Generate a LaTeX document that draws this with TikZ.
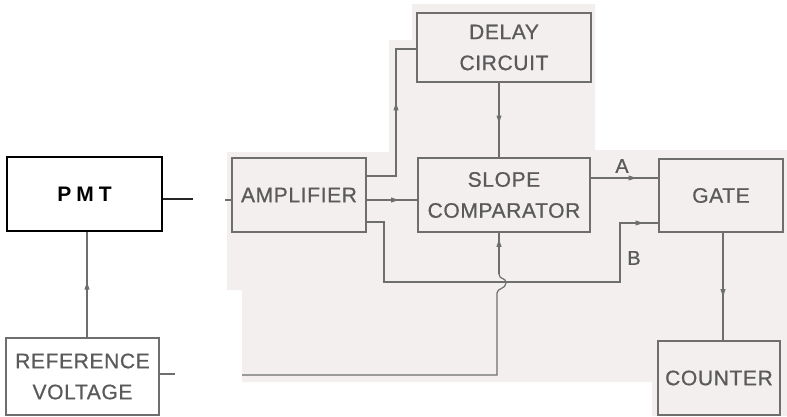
\documentclass[tikz,border=0pt]{standalone}
\usepackage{fontspec}
\setmainfont{Liberation Sans}
\newfontfamily\lblfont[LetterSpace=3,FakeBold=0.8]{Liberation Sans}
\usetikzlibrary{arrows.meta,decorations.markings,calc}
\definecolor{paper}{RGB}{244,239,239}
\definecolor{ink}{RGB}{110,110,110}
\definecolor{txt}{RGB}{90,90,90}
\begin{document}
\begin{tikzpicture}[x=1pt,y=-1pt,
  box/.style={draw=ink, line width=1.2pt, text=txt, font=\lblfont\fontsize{21}{31}\selectfont, align=center, inner sep=0pt},
  pmtbox/.style={draw=black, line width=2pt, text=black, font=\bfseries\fontsize{21}{31}\selectfont, align=center, inner sep=0pt},
  conn/.style={ink, line width=1.2pt},
  darkconn/.style={black!85, line width=1.6pt},
  lbl/.style={text=txt, font=\lblfont\fontsize{20}{24}\selectfont, inner sep=0pt},
  arrowat/.style={postaction={decorate,decoration={markings,mark=at position #1 with {\fill[ink] (1.5pt,0pt) -- (-6pt,2.6pt) -- (-6pt,-2.6pt) -- cycle;}}}}
]
\useasboundingbox (0,0) rectangle (787,416);
% scanned paper background
\fill[paper] (227,152) -- (389,152) -- (389,40) -- (412,40) -- (412,4) -- (595,4) -- (595,150) -- (787,150) -- (787,416) -- (652,416) -- (652,382) -- (242,382) -- (242,290) -- (227,290) -- cycle;

% nodes
\node[pmtbox, minimum width=155pt, minimum height=74pt] (pmt) at (84.5,194) {P\hspace{5pt}M\hspace{5pt}T};
\node[box, minimum width=153pt, minimum height=77pt] (ref) at (82.5,376.5) {REFERENCE\\VOLTAGE};
\node[box, minimum width=134pt, minimum height=74pt] (amp) at (299,195) {AMPLIFIER};
\node[box, minimum width=174pt, minimum height=69pt] (delay) at (504,47.5) {DELAY\\CIRCUIT};
\node[box, minimum width=172pt, minimum height=74pt] (slope) at (504,195) {SLOPE\\COMPARATOR};
\node[box, minimum width=124pt, minimum height=73pt] (gate) at (721,195.5) {GATE};
\node[box, minimum width=122pt, minimum height=74pt] (counter) at (719,378) {COUNTER};
\node[lbl] (la) at (622,166) {A};
\node[lbl] (lb) at (634,258) {B};

% free ends
\coordinate (pmtout) at (193,199);
\coordinate (ampin) at (225,200);
\coordinate (refout) at (175,374);
\coordinate (refin) at (242,375);

% connectors
\draw[darkconn] (pmt.east |- pmtout) -- (pmtout);
\draw[conn] (ampin) -- (amp.west |- ampin);
\draw[conn, arrowat=0.51] (ref.north -| 87,0) -- (pmt.south -| 87,0);
\draw[conn] (ref.east |- refout) -- (refout);
\draw[conn] (refin) -- (497,375) -- (497,293)
  .. controls (497,288) and (506,289) .. (506,283)
  .. controls (506,277) and (499,280) .. (499,274);
\draw[conn, arrowat=0.8] (499,274) -- (slope.south -| 499,0);
\draw[conn, arrowat=101pt] (amp.east |- 0,176) -- (396,176) -- (396,49) -- (delay.west |- 0,49);
\draw[conn, arrowat=0.6] (amp.east |- 0,200) -- (slope.west |- 0,200);
\draw[conn, arrowat=0.52] (delay.south -| 499,0) -- (slope.north -| 499,0);
\draw[conn, arrowat=394pt] (amp.east |- 0,222) -- (384,222) -- (384,282) -- (620,282) -- (620,223) -- (gate.west |- 0,223);
\draw[conn, arrowat=0.65] (slope.east |- 0,178) -- (gate.west |- 0,178);
\draw[conn, arrowat=0.58] (gate.south -| 723,0) -- (counter.north -| 723,0);
\end{tikzpicture}
\end{document}
